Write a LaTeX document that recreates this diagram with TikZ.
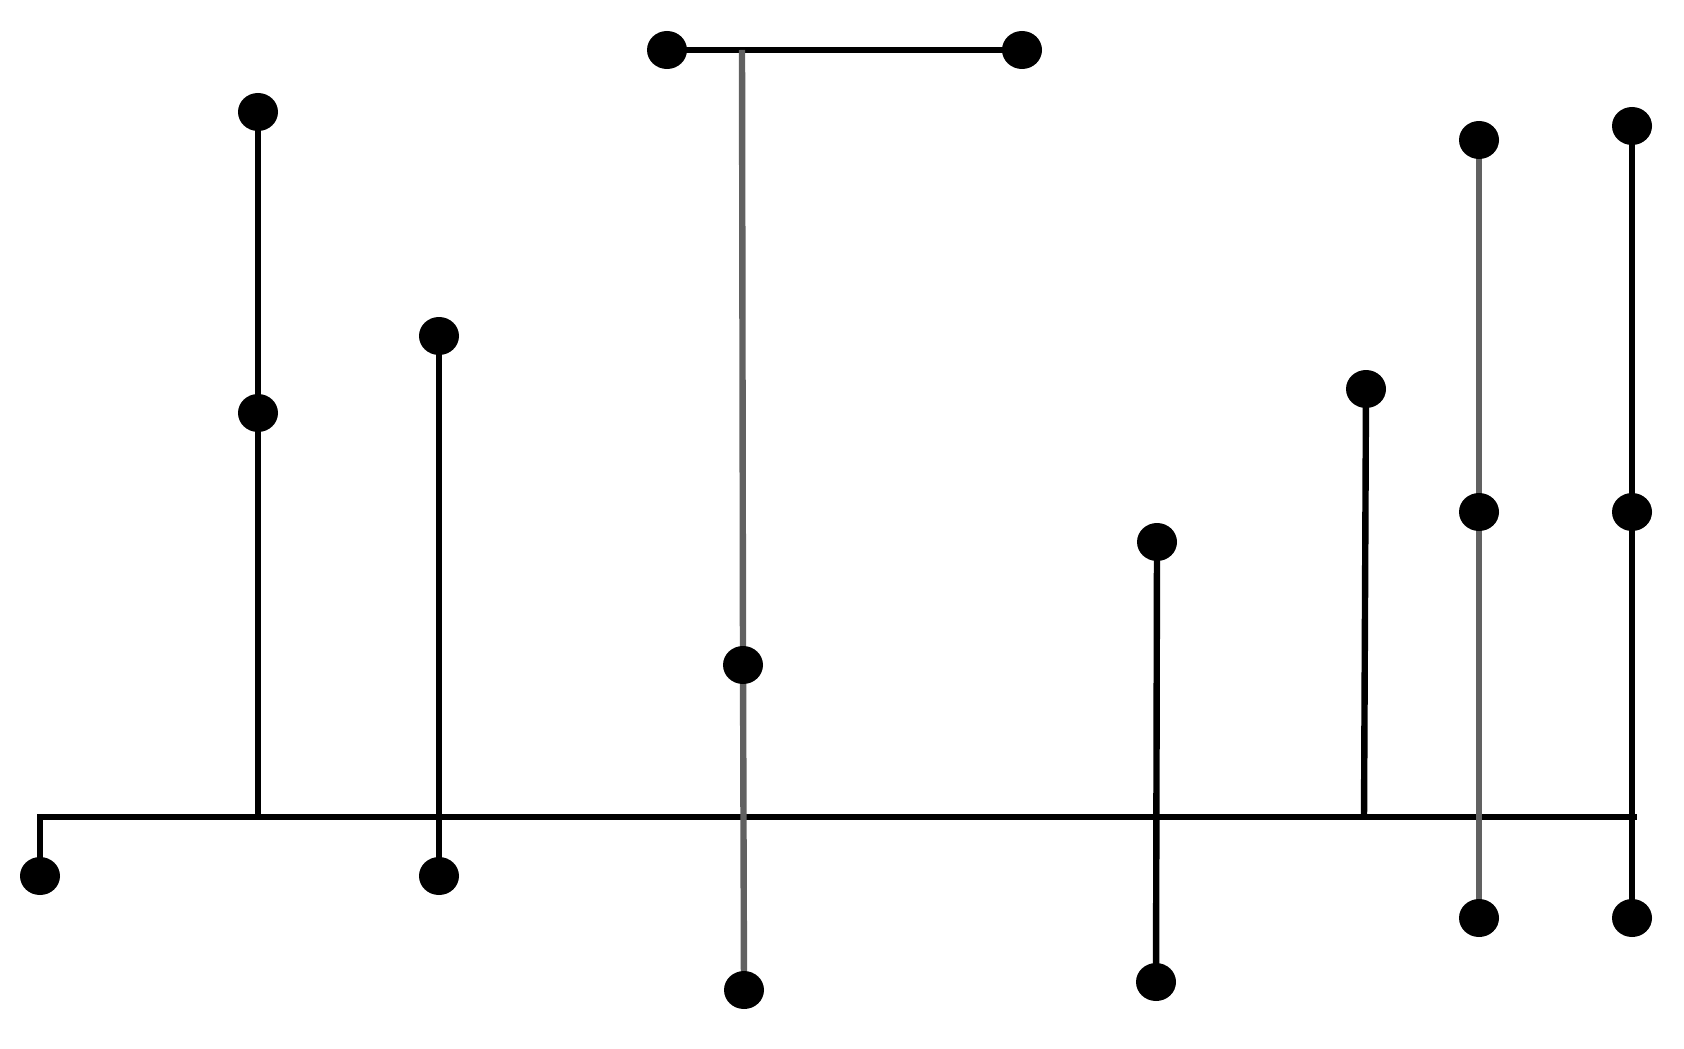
\documentclass[tikz,border=0pt]{standalone}
\usetikzlibrary{shapes.geometric,backgrounds}
\begin{document}
\begin{tikzpicture}[x=0.5pt,y=-0.5pt,
  dot/.style={ellipse,fill=black,draw=none,inner sep=0pt,minimum width=20pt,minimum height=19pt},
  wire/.style={line width=3.2pt,black,line join=miter},
  greywire/.style={line width=3.2pt,black!62}]
\useasboundingbox (0,0) rectangle (1684,1048);
% junctions on the main line
\coordinate (L0) at (40,817);
\coordinate (J1) at (258,817);
\coordinate (J5) at (1364,817);
\coordinate (R) at (1637,817);
\coordinate (T) at (742,50);
% dots
\node[dot] (d0) at (40,876) {};
\node[dot] (a1) at (258,112) {};
\node[dot] (a2) at (258,413) {};
\node[dot] (b1) at (439,336) {};
\node[dot] (b2) at (439,876) {};
\node[dot] (c1) at (667,50) {};
\node[dot] (c2) at (1022,50) {};
\node[dot] (c3) at (743,665) {};
\node[dot] (c4) at (744,990) {};
\node[dot] (e1) at (1157,542) {};
\node[dot] (e2) at (1156,982) {};
\node[dot] (f1) at (1366,389) {};
\node[dot] (g1) at (1479,140) {};
\node[dot] (g2) at (1479,512) {};
\node[dot] (g3) at (1479,918) {};
\node[dot] (h1) at (1632,126) {};
\node[dot] (h2) at (1632,512) {};
\node[dot] (h3) at (1632,918) {};
% connectors
\begin{pgfonlayer}{background}
\draw[wire] (d0.center) -- (L0) -- (R);
\draw[wire] (a1.center) -- (a2.center) -- (J1);
\draw[wire] (b1.center) -- (b2.center);
\draw[wire] (c1.center) -- (c2.center);
\draw[greywire] (T) -- (c3.center) -- (c4.center);
\draw[wire] (e1.center) -- (e2.center);
\draw[wire] (f1.center) -- (J5);
\draw[greywire] (g1.center) -- (g2.center) -- (g3.center);
\draw[wire] (h1.center) -- (h2.center) -- (h3.center);
\end{pgfonlayer}
\end{tikzpicture}
\end{document}
